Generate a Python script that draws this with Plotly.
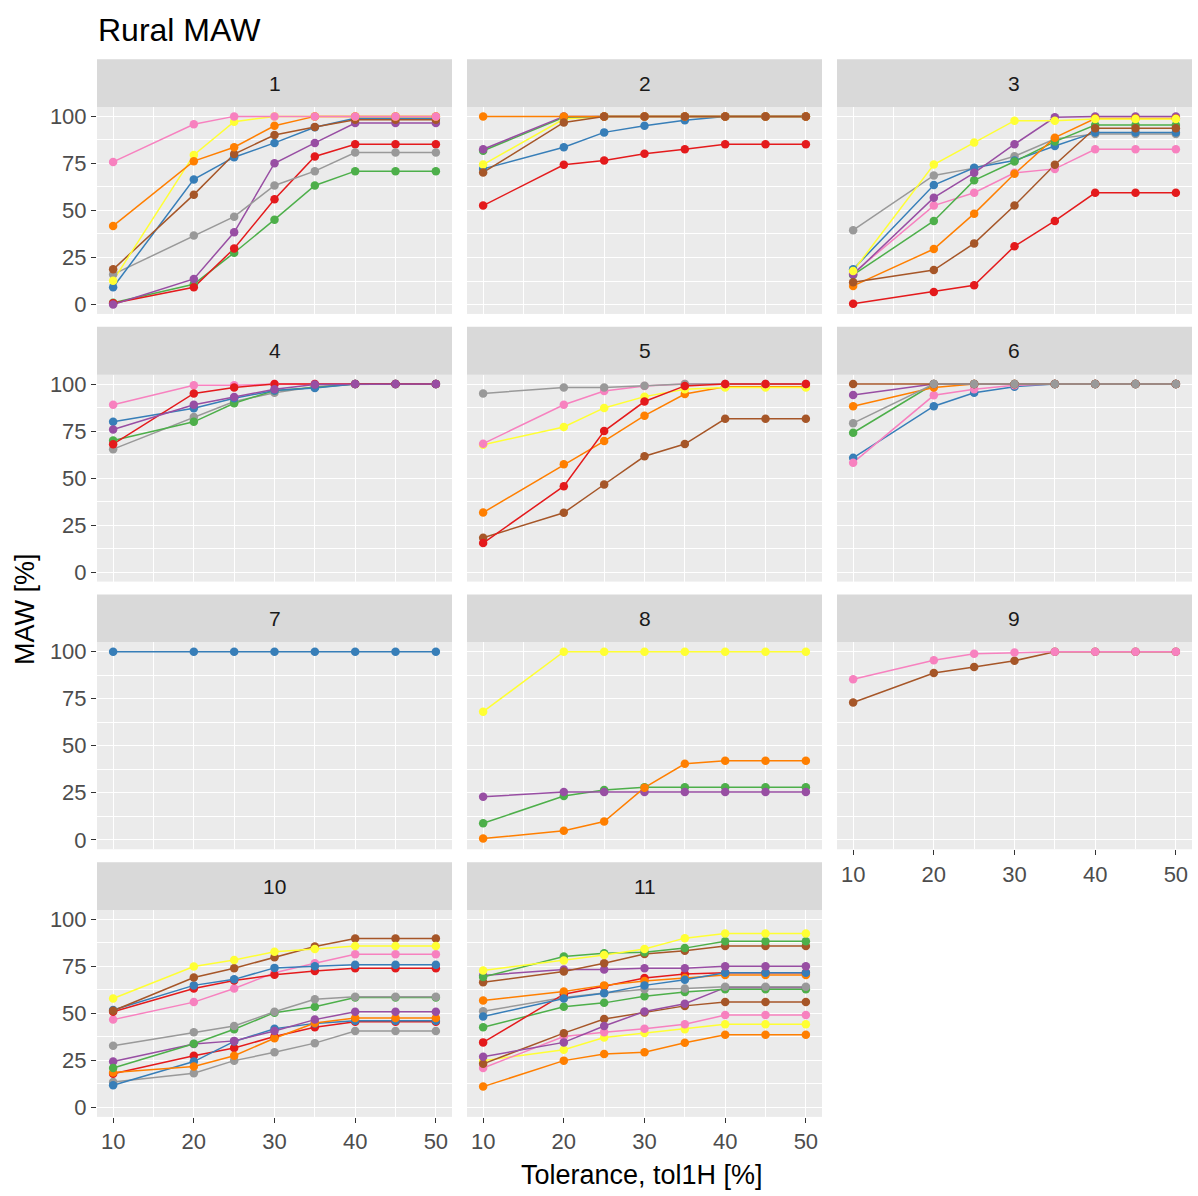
import plotly.graph_objects as go

# Tolerance levels (x) shared by every panel
TOL = [10, 20, 25, 30, 35, 40, 45, 50]

# Set1 colours
SET1 = {
    "red": "#E41A1C", "blue": "#377EB8", "green": "#4DAF4A",
    "purple": "#984EA3", "orange": "#FF7F00", "yellow": "#FFFF33",
    "brown": "#A65628", "pink": "#F781BF", "grey": "#999999",
}

# MAW [%] per panel; keys are series colours (suffix _a/_b for repeated colours).
# Key order is drawing order (last drawn on top).
P1 = {
    "green":  [1, 10.8, 27.5, 45.1, 63.3, 70.9, 70.9, 70.9],
    "red":    [0.7, 9.2, 29.8, 55.9, 78.7, 85.2, 85.2, 85.2],
    "purple": [0, 13.6, 38.4, 75.1, 85.9, 96.5, 96.5, 96.5],
    "grey":   [16, 36.7, 46.7, 63.3, 70.9, 80.8, 80.8, 80.8],
    "blue":   [9.2, 66.5, 78.3, 85.9, 94.2, 99, 99, 99],
    "brown":  [18.7, 58.4, 80, 90.1, 94.4, 98.2, 98.2, 98.2],
    "yellow": [12.7, 79.5, 97.2, 100, 100, 100, 100, 100],
    "orange": [41.8, 76.2, 83.6, 95, 100, 100, 100, 100],
    "pink":   [75.8, 95.8, 100, 100, 100, 100, 100, 100],
}
P2 = {
    "red":    [52.6, 74.3, 76.5, 80.1, 82.5, 85.2, 85.2, 85.2],
    "blue":   [72.1, 83.6, 91.5, 95, 98, 100, 100, 100],
    "yellow": [74.4, 98.6, 100, 100, 100, 100, 100, 100],
    "green":  [81.7, 99.5, 100, 100, 100, 100, 100, 100],
    "purple": [82.5, 100, 100, 100, 100, 100, 100, 100],
    "orange": [100, 100, 100, 100, 100, 100, 100, 100],
    "brown":  [70.2, 96.8, 100, 100, 100, 100, 100, 100],
}
P3 = {
    "red":    [0.4, 6.7, 10.2, 31, 44.4, 59.4, 59.4, 59.4],
    "pink":   [16.6, 52.6, 59.4, 70, 72.1, 82.5, 82.5, 82.5],
    "grey":   [39.5, 68.6, 72.5, 78.8, 88, 90.7, 90.7, 90.7],
    "blue":   [18.7, 63.5, 72.7, 76.5, 84.3, 91.5, 91.5, 91.5],
    "green":  [15.7, 44.4, 66, 76, 86.6, 95.4, 95.4, 95.4],
    "purple": [16, 56.8, 70, 85.2, 99.5, 100, 100, 100],
    "orange": [9.9, 29.5, 48.3, 69.5, 88.7, 98.9, 98.9, 98.9],
    "brown":  [11.8, 18.3, 32.5, 52.6, 74.3, 93.7, 93.7, 93.7],
    "yellow": [17.8, 74.4, 86.1, 97.7, 97.7, 98.6, 98.6, 98.6],
}
P4 = {
    "pink":   [89, 99.3, 99.3, 100, 100, 100, 100, 100],
    "grey":   [65.4, 82.5, 90.7, 95.4, 98.6, 100, 100, 100],
    "green":  [70, 79.9, 89.8, 96.6, 98.2, 100, 100, 100],
    "blue":   [80, 87.1, 92.4, 96.6, 97.9, 100, 100, 100],
    "red":    [68, 95, 98.2, 100, 100, 100, 100, 100],
    "purple": [75.8, 89, 93.1, 97.2, 99.8, 100, 100, 100],
}
P5 = {
    "brown":  [18.3, 31.6, 46.6, 61.6, 68.1, 81.5, 81.5, 81.5],
    "orange": [31.7, 57.3, 69.7, 83.2, 94.7, 98.6, 98.6, 98.6],
    "yellow": [67.7, 77.2, 87.3, 93.3, 97.2, 98.2, 98.2, 98.2],
    "pink":   [68.3, 89, 96.3, 99, 100, 100, 100, 100],
    "grey":   [95, 98.2, 98.2, 99.1, 100, 100, 100, 100],
    "red":    [15.5, 45.7, 75, 90.7, 99, 100, 100, 100],
}
P6 = {
    "blue":   [60.8, 88.2, 95.4, 98.6, 100, 100, 100, 100],
    "pink":   [58.2, 94, 97.2, 99.3, 100, 100, 100, 100],
    "green":  [74.1, 100, 100, 100, 100, 100, 100, 100],
    "orange": [88.2, 98.2, 100, 100, 100, 100, 100, 100],
    "purple": [94.2, 100, 100, 100, 100, 100, 100, 100],
    "brown":  [100, 100, 100, 100, 100, 100, 100, 100],
    "grey":   [79.2, 100, 100, 100, 100, 100, 100, 100],
}
P7 = {
    "blue":   [100, 100, 100, 100, 100, 100, 100, 100],
}
P8 = {
    "green":  [8.8, 23.3, 26.5, 28, 28, 28, 28, 28],
    "purple": [22.9, 25.4, 25.4, 25.4, 25.4, 25.4, 25.4, 25.4],
    "orange": [0.7, 4.8, 9.7, 27.7, 40.4, 42, 42, 42],
    "yellow": [68.1, 100, 100, 100, 100, 100, 100, 100],
}
P9 = {
    "brown":  [73, 88.7, 91.9, 95.2, 100, 100, 100, 100],
    "pink":   [85.4, 95.4, 98.9, 99.6, 100, 100, 100, 100],
}
P10 = {
    "grey_b":   [13.5, 18.2, 24.9, 29.3, 34.2, 40.7, 40.7, 40.7],
    "red_b":    [17.9, 27.5, 31.6, 37.7, 42.6, 45.6, 45.6, 45.6],
    "blue_b":   [11.8, 24.4, 35.1, 41.8, 44.7, 46.1, 46.1, 46.1],
    "orange":   [18.6, 21.8, 27.5, 36.8, 44.9, 47.5, 47.5, 47.5],
    "purple":   [24.4, 33.7, 35.4, 40.7, 46.7, 50.9, 50.9, 50.9],
    "green":    [21, 33.9, 41.6, 50.4, 53.5, 58.4, 58.4, 58.4],
    "grey_a":   [32.8, 40, 43.3, 50.9, 57.5, 58.8, 58.8, 58.8],
    "pink":     [46.7, 56, 63.2, 71.6, 76.7, 81.4, 81.4, 81.4],
    "red_a":    [50.9, 63.2, 67.5, 70.5, 72.5, 74, 74, 74],
    "blue_a":   [51.8, 64.9, 68.1, 74.2, 75.1, 75.8, 75.8, 75.8],
    "brown":    [51.4, 69.1, 74, 79.8, 85.6, 89.8, 89.8, 89.8],
    "yellow":   [57.9, 74.9, 78.4, 82.8, 84.2, 85.8, 85.8, 85.8],
}
P11 = {
    "orange_b": [11.1, 24.9, 28.4, 29.3, 34.4, 38.6, 38.6, 38.6],
    "yellow_b": [24.9, 30.7, 37.2, 39.6, 41.6, 44.2, 44.2, 44.2],
    "pink":     [21, 37.7, 40, 41.8, 44.2, 49.1, 49.1, 49.1],
    "brown_b":  [23.2, 39.5, 47, 50.5, 54, 56.1, 56.1, 56.1],
    "purple_b": [27, 34.6, 43.3, 51, 55.1, 63.7, 63.7, 63.7],
    "green_b":  [42.6, 53.5, 55.6, 59.1, 61.4, 62.8, 62.8, 62.8],
    "grey":     [51.1, 58.4, 60.9, 62.8, 63.2, 64.2, 64.2, 64.2],
    "red":      [34.6, 60.2, 64.4, 68.8, 70.9, 71.6, 71.6, 71.6],
    "orange_a": [56.8, 61.6, 64.9, 67.2, 68.8, 70.4, 70.4, 70.4],
    "blue":     [48.4, 57.9, 60.7, 64.9, 67.9, 71.6, 71.6, 71.6],
    "purple_a": [70.2, 73.3, 73.3, 74, 74, 75.1, 75.1, 75.1],
    "brown_a":  [66.5, 72.3, 76.7, 81.6, 83.3, 85.8, 85.8, 85.8],
    "green_a":  [69.3, 80.2, 82, 82.5, 84.7, 88.4, 88.4, 88.4],
    "yellow_a": [72.8, 78.1, 81.1, 84.2, 90, 92.5, 92.5, 92.5],
}

PANEL_LABELS = ["1", "2", "3", "4", "5", "6", "7", "8", "9", "10", "11"]
PANEL_DATA = [P1, P2, P3, P4, P5, P6, P7, P8, P9, P10, P11]

X_TICKS = [10, 20, 30, 40, 50]
Y_TICKS = [0, 25, 50, 75, 100]

# --- page geometry (pixels) ---
W, H = 1198, 1196
COL_LEFT = [97, 467, 837]
COL_W = 355
ROW_TOP = [104.5, 373.5, 642.5, 911.5]
ROW_H = 208
STRIP_H = 48

FONT = "Liberation Sans, Arial, sans-serif"


def fx(px):
    return px / W


def fy(py):
    return 1 - py / H


fig = go.Figure()
layout = dict(
    width=W, height=H, autosize=False,
    margin=dict(l=0, r=0, t=0, b=0),
    paper_bgcolor="white", plot_bgcolor="#EBEBEB",
    showlegend=False,
    font=dict(family=FONT, color="#4D4D4D", size=22),
)
shapes, annotations = [], []

for i, (label, data) in enumerate(zip(PANEL_LABELS, PANEL_DATA)):
    row, col = divmod(i, 3)
    n = i + 1
    xa = "x" if n == 1 else f"x{n}"
    ya = "y" if n == 1 else f"y{n}"
    left = COL_LEFT[col]
    top = ROW_TOP[row]

    show_x = i in (8, 9, 10)
    show_y = col == 0

    layout[f"xaxis{'' if n == 1 else n}"] = dict(
        domain=[fx(left), fx(left + COL_W)], anchor=ya,
        range=[8, 52], tickvals=X_TICKS,
        showgrid=True, gridcolor="white", gridwidth=1.4,
        minor=dict(tickvals=[15, 25, 35, 45], showgrid=True,
                   gridcolor="white", gridwidth=0.7),
        zeroline=False, showline=False,
        ticks="outside" if show_x else "", ticklen=5, tickwidth=1.1,
        tickcolor="#333333", showticklabels=show_x,
        tickfont=dict(size=22, color="#4D4D4D", family=FONT),
        fixedrange=True,
    )
    layout[f"yaxis{'' if n == 1 else n}"] = dict(
        domain=[fy(top + ROW_H), fy(top)], anchor=xa,
        range=[-5, 105], tickvals=Y_TICKS,
        showgrid=True, gridcolor="white", gridwidth=1.4,
        minor=dict(tickvals=[12.5, 37.5, 62.5, 87.5], showgrid=True,
                   gridcolor="white", gridwidth=0.7),
        zeroline=False, showline=False,
        ticks="outside" if show_y else "", ticklen=5, tickwidth=1.1,
        tickcolor="#333333", showticklabels=show_y,
        tickfont=dict(size=22, color="#4D4D4D", family=FONT),
        fixedrange=True,
    )

    # strip header
    shapes.append(dict(type="rect", xref="paper", yref="paper",
                       x0=fx(left), x1=fx(left + COL_W),
                       y0=fy(top), y1=fy(top - STRIP_H),
                       fillcolor="#D9D9D9", line=dict(width=0), layer="below"))
    annotations.append(dict(text=label, xref="paper", yref="paper",
                            x=fx(left + COL_W / 2), y=fy(top - STRIP_H / 2),
                            xanchor="center", yanchor="middle", showarrow=False,
                            font=dict(size=21, color="#1A1A1A", family=FONT)))

    # lines first, then points on top (ggplot layer order)
    for key, vals in data.items():
        c = SET1[key.split("_")[0]]
        fig.add_trace(go.Scatter(x=TOL, y=vals, mode="lines", xaxis=xa, yaxis=ya,
                                 line=dict(color=c, width=1.5), hoverinfo="skip"))
    for key, vals in data.items():
        c = SET1[key.split("_")[0]]
        fig.add_trace(go.Scatter(x=TOL, y=vals, mode="markers", xaxis=xa, yaxis=ya,
                                 marker=dict(color=c, size=8.5, line=dict(width=0))))

# titles
annotations.append(dict(text="Rural MAW", xref="paper", yref="paper",
                        x=fx(96), y=fy(27), xanchor="left", yanchor="middle",
                        showarrow=False, font=dict(size=32, color="black", family=FONT)))
annotations.append(dict(text="Tolerance, tol1H [%]", xref="paper", yref="paper",
                        x=fx(642), y=fy(1178), xanchor="center",
                        yanchor="middle", showarrow=False,
                        font=dict(size=27, color="black", family=FONT)))
annotations.append(dict(text="MAW [%]", xref="paper", yref="paper",
                        x=fx(25), y=fy(609), xanchor="center", yanchor="middle",
                        textangle=-90, showarrow=False,
                        font=dict(size=27, color="black", family=FONT)))

layout["shapes"] = shapes
layout["annotations"] = annotations
fig.update_layout(**layout)
fig.write_html("out.html")
